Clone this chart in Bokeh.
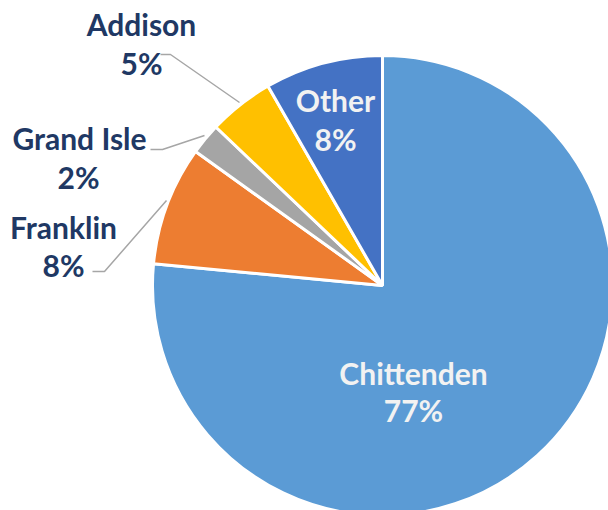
import math
from bokeh.plotting import figure
from bokeh.models import ColumnDataSource
from bokeh.core.properties import value
from bokeh.embed import file_html
from bokeh.resources import INLINE

# ---- data ----
counties = ["Chittenden", "Franklin", "Grand Isle", "Addison", "Other"]
shares = [76.5, 8.4, 2.2, 4.6, 8.3]
pct_labels = ["77%", "8%", "2%", "5%", "8%"]
colors = ["#5B9BD5", "#ED7D31", "#A5A5A5", "#FFC000", "#4472C4"]

W, H = 608, 510
cx, cy, R = 382, 285, 230  # pixel coords (y down)


def Y(y):
    return H - y


total = sum(shares)
starts, ends = [], []
acc = 0.0
for s in shares:
    a0 = math.pi / 2 - 2 * math.pi * acc / total
    acc += s
    a1 = math.pi / 2 - 2 * math.pi * acc / total
    starts.append(a0)
    ends.append(a1)

src = ColumnDataSource(dict(county=counties, share=shares, start=starts, end=ends, color=colors))

p = figure(width=W, height=H, x_range=(0, W), y_range=(0, H), min_border=0,
           toolbar_location=None, output_backend="svg",
           x_axis_location=None, y_axis_location=None)
p.grid.visible = False
p.outline_line_color = None
p.background_fill_color = "white"
p.border_fill_color = "white"

p.wedge(x=cx, y=Y(cy), radius=R, start_angle="start", end_angle="end",
        direction="clock", fill_color="color", line_color="white", line_width=3,
        source=src)

# leader lines
leaders = [
    ([160, 170, 239], [54, 54, 102]),     # Addison
    ([150, 162, 204], [149, 149, 135]),   # Grand Isle
    ([92, 104, 166], [271, 271, 200]),    # Franklin
]
for xs, ys in leaders:
    p.line(xs, [Y(v) for v in ys], line_color="#A6A6A6", line_width=1.5)

# label positions (name center, pct center) in pixels
label_pos = {
    "Chittenden": ((413, 372), (413, 409), "#F2F2F2"),
    "Franklin": ((63, 226), (63, 264), "#203864"),
    "Grand Isle": ((79, 137), (78, 176), "#203864"),
    "Addison": ((141, 23), (141, 62), "#203864"),
    "Other": ((335, 99), (335, 138), "#F2F2F2"),
}
tx, ty, tt, tc = [], [], [], []
for name, pct in zip(counties, pct_labels):
    (nx, ny), (px_, py_), col = label_pos[name]
    tx += [nx, px_]
    ty += [Y(ny), Y(py_)]
    tt += [name, pct]
    tc += [col, col]

p.text(x=tx, y=ty, text=tt, text_color=tc, text_align="center", text_baseline="middle",
       text_font=value("Lato"), text_font_style="bold", text_font_size="30px")

open("out.html", "w").write(file_html(p, INLINE))
